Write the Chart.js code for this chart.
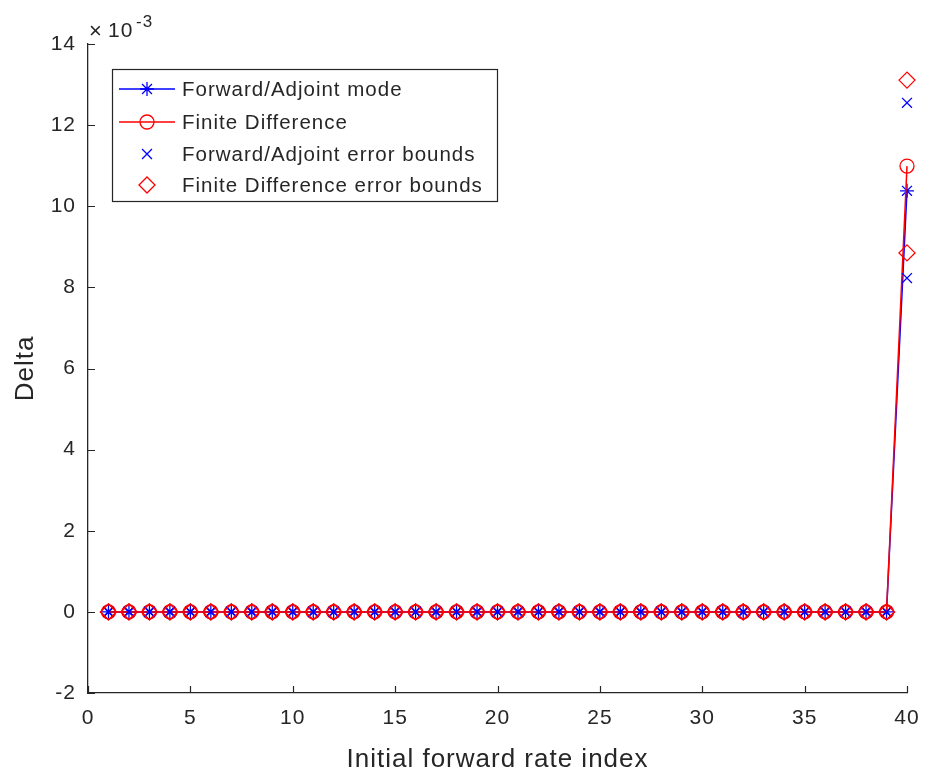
<!DOCTYPE html>
<html>
<head>
<meta charset="utf-8">
<script src="https://cdn.jsdelivr.net/npm/chart.js@4.4.1/dist/chart.umd.min.js"></script>
<style>
  html, body { margin: 0; padding: 0; background: #fff; }
</style>
</head>
<body>
<canvas id="chart" width="927" height="774"></canvas>
<script>
// Delta values are in units of 1e-3 (see the axis multiplier)
const RATE_INDEX = [1, 2, 3, 4, 5, 6, 7, 8, 9, 10, 11, 12, 13, 14, 15, 16, 17, 18, 19, 20,
  21, 22, 23, 24, 25, 26, 27, 28, 29, 30, 31, 32, 33, 34, 35, 36, 37, 38, 39, 40];

const FWD_DELTA = [0, 0, 0, 0, 0, 0, 0, 0, 0, 0, 0, 0, 0, 0, 0, 0, 0, 0, 0, 0,
  0, 0, 0, 0, 0, 0, 0, 0, 0, 0, 0, 0, 0, 0, 0, 0, 0, 0, 0, 10.38];
const FD_DELTA = [0, 0, 0, 0, 0, 0, 0, 0, 0, 0, 0, 0, 0, 0, 0, 0, 0, 0, 0, 0,
  0, 0, 0, 0, 0, 0, 0, 0, 0, 0, 0, 0, 0, 0, 0, 0, 0, 0, 0, 10.99];

const FWD_LOW = [0, 0, 0, 0, 0, 0, 0, 0, 0, 0, 0, 0, 0, 0, 0, 0, 0, 0, 0, 0,
  0, 0, 0, 0, 0, 0, 0, 0, 0, 0, 0, 0, 0, 0, 0, 0, 0, 0, 0, 8.23];
const FWD_HIGH = [0, 0, 0, 0, 0, 0, 0, 0, 0, 0, 0, 0, 0, 0, 0, 0, 0, 0, 0, 0,
  0, 0, 0, 0, 0, 0, 0, 0, 0, 0, 0, 0, 0, 0, 0, 0, 0, 0, 0, 12.55];
const FD_LOW = [0, 0, 0, 0, 0, 0, 0, 0, 0, 0, 0, 0, 0, 0, 0, 0, 0, 0, 0, 0,
  0, 0, 0, 0, 0, 0, 0, 0, 0, 0, 0, 0, 0, 0, 0, 0, 0, 0, 0, 8.85];
const FD_HIGH = [0, 0, 0, 0, 0, 0, 0, 0, 0, 0, 0, 0, 0, 0, 0, 0, 0, 0, 0, 0,
  0, 0, 0, 0, 0, 0, 0, 0, 0, 0, 0, 0, 0, 0, 0, 0, 0, 0, 0, 13.11];

const LEGEND_LABELS = [
  'Forward/Adjoint mode',
  'Finite Difference',
  'Forward/Adjoint error bounds',
  'Finite Difference error bounds',
];
const X_TITLE = 'Initial forward rate index';
const Y_TITLE = 'Delta';

const AXIS_COLOR = '#262626';
const FONT = '"Liberation Sans", Arial, Helvetica, sans-serif';
const BLUE = '#0000ff';
const RED = '#ff0000';

const pts = (ys) => RATE_INDEX.map((x, i) => ({ x, y: ys[i] }));
const boundPts = (lo, hi) => pts(lo).concat(pts(hi));

// slightly looser text, both for layout measuring and drawing
const textSpacing = {
  id: 'textSpacing',
  beforeLayout(chart) { chart.ctx.letterSpacing = '1px'; },
  beforeDraw(chart) { chart.ctx.letterSpacing = '1px'; },
};

// MATLAB-style ticks pointing into the axes
const innerTicks = {
  id: 'innerTicks',
  afterDraw(chart) {
    const { ctx, chartArea: a, scales: { x, y } } = chart;
    ctx.save();
    ctx.strokeStyle = AXIS_COLOR;
    ctx.lineWidth = 1.2;
    ctx.beginPath();
    x.ticks.forEach((t) => {
      const px = Math.round(x.getPixelForValue(t.value)) + 0.5;
      ctx.moveTo(px, a.bottom);
      ctx.lineTo(px, a.bottom - 7);
    });
    y.ticks.forEach((t) => {
      const py = Math.round(y.getPixelForValue(t.value)) + 0.5;
      ctx.moveTo(a.left, py);
      ctx.lineTo(a.left + 7, py);
    });
    ctx.stroke();
    ctx.restore();
  },
};

// axis titles and the "×10^-3" multiplier above the y axis
const axisText = {
  id: 'axisText',
  afterDraw(chart) {
    const { ctx, chartArea: a } = chart;
    ctx.save();
    ctx.fillStyle = AXIS_COLOR;
    ctx.textBaseline = 'alphabetic';

    ctx.font = `26px ${FONT}`;
    ctx.textAlign = 'center';
    ctx.fillText(X_TITLE, (a.left + a.right) / 2, 767);
    ctx.save();
    ctx.translate(33, (a.top + a.bottom) / 2);
    ctx.rotate(-Math.PI / 2);
    ctx.fillText(Y_TITLE, 0, 0);
    ctx.restore();

    ctx.textAlign = 'left';
    ctx.font = `22px ${FONT}`;
    ctx.fillText('\u00d7', a.left + 1, a.top - 6);
    ctx.font = `21px ${FONT}`;
    ctx.fillText('10', a.left + 20, a.top - 7);
    ctx.font = `17px ${FONT}`;
    ctx.fillText('-3', a.left + 48, a.top - 17);
    ctx.restore();
  },
};

// boxed legend in the upper left of the axes
const legendBox = {
  id: 'legendBox',
  afterDraw(chart) {
    const { ctx, chartArea: a } = chart;
    const left = a.left + 24, top = a.top + 25, w = 385, h = 132;
    ctx.save();
    ctx.fillStyle = '#fff';
    ctx.fillRect(left, top, w, h);
    ctx.strokeStyle = AXIS_COLOR;
    ctx.lineWidth = 1.2;
    ctx.strokeRect(left + 0.5, top + 0.5, w, h);
    const rows = [top + 20, top + 53, top + 85, top + 116];
    chart.data.datasets.forEach((ds, i) => {
      const y = rows[i];
      const mx = left + 35;
      ctx.strokeStyle = ds.borderColor;
      ctx.fillStyle = ds.pointBackgroundColor;
      if (ds.showLine !== false) {
        ctx.lineWidth = ds.borderWidth;
        ctx.beginPath();
        ctx.moveTo(left + 7, y);
        ctx.lineTo(left + 63, y);
        ctx.stroke();
      }
      ctx.lineWidth = ds.pointBorderWidth;
      Chart.helpers.drawPoint(ctx, {
        pointStyle: ds.pointStyle, radius: ds.pointRadius, rotation: 0, borderWidth: ds.pointBorderWidth,
      }, mx, y);
      ctx.fillStyle = AXIS_COLOR;
      ctx.font = `20.5px ${FONT}`;
      ctx.textBaseline = 'middle';
      ctx.fillText(LEGEND_LABELS[i], left + 70, y + 1);
    });
    ctx.restore();
  },
};

const markerSet = (color, style, radius) => ({
  borderColor: color,
  pointBorderColor: color,
  pointBackgroundColor: 'rgba(0,0,0,0)',
  pointStyle: style,
  pointRadius: radius,
  pointHoverRadius: radius,
  pointBorderWidth: 1.3,
  clip: false,
});

new Chart(document.getElementById('chart'), {
  type: 'line',
  data: {
    datasets: [
      {
        label: LEGEND_LABELS[0], data: pts(FWD_DELTA), borderWidth: 1.5, order: 4,
        ...markerSet(BLUE, 'star', 7),
      },
      {
        label: LEGEND_LABELS[1], data: pts(FD_DELTA), borderWidth: 1.5, order: 3,
        ...markerSet(RED, 'circle', 7),
      },
      {
        label: LEGEND_LABELS[2], data: boundPts(FWD_LOW, FWD_HIGH), showLine: false, order: 2,
        ...markerSet(BLUE, 'crossRot', 7),
      },
      {
        label: LEGEND_LABELS[3], data: boundPts(FD_LOW, FD_HIGH), showLine: false, order: 1,
        ...markerSet(RED, 'rectRot', 8),
      },
    ],
  },
  options: {
    responsive: false,
    animation: false,
    layout: { padding: { top: 44, right: 20, left: 0, bottom: 0 } },
    plugins: { legend: { display: false }, tooltip: { enabled: false } },
    elements: { line: { tension: 0 } },
    scales: {
      x: {
        type: 'linear', min: 0, max: 40,
        afterFit: (s) => { s.height = 81; s.paddingRight = 0; s.paddingLeft = 0; },
        ticks: { stepSize: 5, color: AXIS_COLOR, padding: 13, maxRotation: 0, font: { family: FONT, size: 21 } },
        grid: { display: false, drawTicks: false },
        border: { display: true, color: AXIS_COLOR, width: 1.3 },
      },
      y: {
        type: 'linear', min: -2, max: 14,
        afterFit: (s) => { s.width = 88; },
        ticks: { stepSize: 2, color: AXIS_COLOR, padding: 12, font: { family: FONT, size: 21 } },
        grid: { display: false, drawTicks: false },
        border: { display: true, color: AXIS_COLOR, width: 1.3 },
      },
    },
  },
  plugins: [textSpacing, innerTicks, axisText, legendBox],
});
</script>
</body>
</html>
